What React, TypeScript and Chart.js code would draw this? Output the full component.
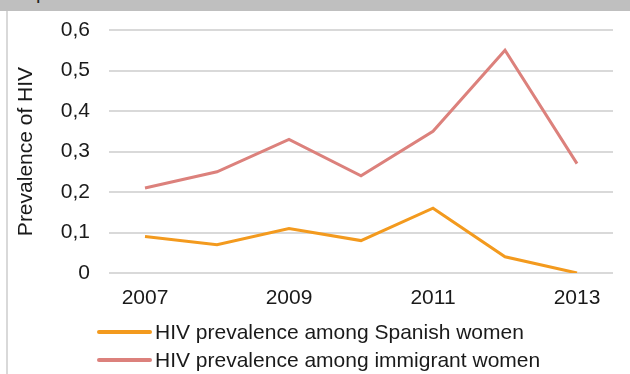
import React, { useEffect, useRef } from "react";
import { Chart, registerables } from "chart.js";

Chart.register(...registerables);

const years = ["2007", "2008", "2009", "2010", "2011", "2012", "2013"];
const spanishWomen = [0.09, 0.07, 0.11, 0.08, 0.16, 0.04, 0.0];
const immigrantWomen = [0.21, 0.25, 0.33, 0.24, 0.35, 0.55, 0.27];
const seriesLabels = [
  "HIV prevalence among Spanish women",
  "HIV prevalence among immigrant women",
];
const seriesColors = ["#f39a1e", "#dc817c"];
const yTitle = "Prevalence of HIV";

const FONT = "'Liberation Sans', Arial, sans-serif";
const FS = 21;

const legendPlugin = {
  id: "customLegend",
  afterDraw(chart: any) {
    const ctx = chart.ctx;
    ctx.save();
    ctx.font = `${FS}px ${FONT}`;
    ctx.textBaseline = "middle";
    ctx.textAlign = "left";
    const rows = [321, 349];
    chart.data.datasets.forEach((ds: any, i: number) => {
      const y = rows[i];
      ctx.strokeStyle = ds.borderColor;
      ctx.lineWidth = 4;
      ctx.lineCap = "round";
      ctx.beginPath();
      ctx.moveTo(91, y);
      ctx.lineTo(142, y);
      ctx.stroke();
      ctx.fillStyle = "#1a1a1a";
      ctx.fillText(ds.label, 147, y + 1);
    });
    ctx.restore();
  },
};

function App() {
  const ref = useRef<HTMLCanvasElement | null>(null);
  useEffect(() => {
    if (!ref.current) return;
    const chart = new Chart(ref.current, {
      type: "line",
      data: {
        labels: years,
        datasets: [
          {
            label: seriesLabels[0],
            data: spanishWomen,
            borderColor: seriesColors[0],
            backgroundColor: seriesColors[0],
            borderWidth: 3,
            pointRadius: 0,
            tension: 0,
          },
          {
            label: seriesLabels[1],
            data: immigrantWomen,
            borderColor: seriesColors[1],
            backgroundColor: seriesColors[1],
            borderWidth: 3,
            pointRadius: 0,
            tension: 0,
          },
        ],
      },
      options: {
        animation: false,
        responsive: false,
        maintainAspectRatio: false,
        layout: { padding: { top: 0, right: 17, left: 0, bottom: 0 } },
        plugins: {
          legend: { display: false },
          tooltip: { enabled: false },
        },
        scales: {
          x: {
            offset: true,
            grid: { display: false, drawTicks: false },
            border: { display: false },
            ticks: {
              autoSkip: false,
              maxRotation: 0,
              padding: 13,
              color: "#1a1a1a",
              font: { family: FONT, size: FS },
              callback: (_v: any, i: number) => (i % 2 === 0 ? years[i] : ""),
            },
            afterFit: (s: any) => {
              s.height = 101;
            },
          },
          y: {
            min: 0,
            max: 0.6,
            grid: { color: "#d9d9d9", lineWidth: 2, drawTicks: false },
            border: { display: false },
            ticks: {
              stepSize: 0.1,
              padding: 19,
              color: "#1a1a1a",
              font: { family: FONT, size: FS },
              callback: (v: any) =>
                v === 0 ? "0" : Number(v).toFixed(1).replace(".", ","),
            },
            title: {
              display: true,
              text: yTitle,
              color: "#1a1a1a",
              font: { family: FONT, size: FS },
              padding: { top: 6, bottom: 0 },
            },
            afterFit: (s: any) => {
              s.width = 101;
              s.paddingTop = 19;
              s.paddingBottom = 0;
            },
          },
        },
      },
      plugins: [legendPlugin],
    });
    return () => chart.destroy();
  }, []);

  return (
    <div
      style={{
        position: "absolute",
        left: 0,
        top: 0,
        width: 630,
        height: 374,
        background: "#ffffff",
        overflow: "hidden",
      }}
    >
      <div
        style={{
          position: "absolute",
          left: 0,
          top: 0,
          width: 630,
          height: 11,
          background: "#bfbfbf",
          overflow: "hidden",
        }}
      >
        <span
          style={{
            position: "absolute",
            left: 36,
            top: -19,
            fontFamily: FONT,
            fontSize: 20,
            color: "#222",
          }}
        >
          p
        </span>
      </div>
      <div
        style={{
          position: "absolute",
          left: 6,
          top: 11,
          width: 2,
          height: 363,
          background: "#d9d9d9",
        }}
      />
      <canvas
        ref={ref}
        width={622}
        height={363}
        style={{ position: "absolute", left: 8, top: 11, width: 622, height: 363 }}
      />
    </div>
  );
}

export default App;
